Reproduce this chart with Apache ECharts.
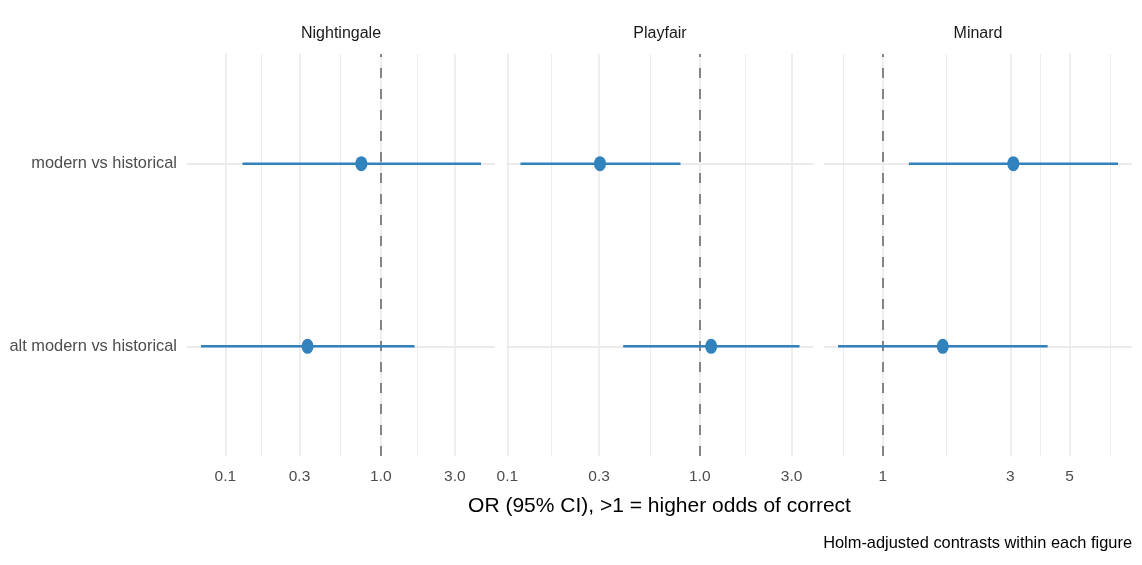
<!DOCTYPE html>
<html><head><meta charset="utf-8">
<script src="https://cdn.jsdelivr.net/npm/echarts@6/dist/echarts.min.js"></script>
<style>html,body{margin:0;padding:0;background:#fff}#c{width:1142px;height:565px}</style>
</head><body><div id="c"></div>
<script>
// ---- data ----
const facets = ['Nightingale', 'Playfair', 'Minard'];
const contrasts = ['alt modern vs historical', 'modern vs historical']; // row 1, row 2
const nightingaleOR = [0.338, 0.75];
const nightingaleLow = [0.0697, 0.129];
const nightingaleHigh = [1.65, 4.42];
const playfairOR = [1.146, 0.303];
const playfairLow = [0.40, 0.117];
const playfairHigh = [3.30, 0.794];
const minardOR = [1.677, 3.08];
const minardLow = [0.68, 1.252];
const minardHigh = [4.14, 7.59];
const nightingaleTicks = [0.1, 0.3, 1, 3];
const nightingaleTickLabels = ['0.1', '0.3', '1.0', '3.0'];
const playfairTicks = [0.1, 0.3, 1, 3];
const playfairTickLabels = ['0.1', '0.3', '1.0', '3.0'];
const minardTicks = [1, 3, 5];
const minardTickLabels = ['1', '3', '5'];
const nightingaleMinor = [0.1732, 0.5477, 1.732];
const playfairMinor = [0.1732, 0.5477, 1.732];
const minardMinor = [0.7071, 1.732, 3.873, 7.071];
const refValue = [1];
const xTitle = 'OR (95% CI), >1 = higher odds of correct';
const caption = 'Holm-adjusted contrasts within each figure';

// ---- style ----
const FONT = '"Liberation Sans", Arial, sans-serif';
const BLUE = '#3182bd';
const GRID = '#ebebeb';
const panels = [
  {name: facets[0], or: nightingaleOR, lo: nightingaleLow, hi: nightingaleHigh, ticks: nightingaleTicks, labels: nightingaleTickLabels, minor: nightingaleMinor, left: 187, width: 308},
  {name: facets[1], or: playfairOR, lo: playfairLow, hi: playfairHigh, ticks: playfairTicks, labels: playfairTickLabels, minor: playfairMinor, left: 506.5, width: 307},
  {name: facets[2], or: minardOR, lo: minardLow, hi: minardHigh, ticks: minardTicks, labels: minardTickLabels, minor: minardMinor, left: 824, width: 308}
];
const TOP = 54, HEIGHT = 402;

const grid = [], xAxis = [], yAxis = [], series = [], graphic = [];
panels.forEach((p, i) => {
  const lmin = Math.log10(Math.min(...p.lo)), lmax = Math.log10(Math.max(...p.hi));
  const pad = (lmax - lmin) * 0.05;
  grid.push({left: p.left, width: p.width, top: TOP, height: HEIGHT, containLabel: false, outerBoundsMode: 'none'});
  xAxis.push({
    type: 'log', gridIndex: i, min: Math.pow(10, lmin - pad), max: Math.pow(10, lmax + pad),
    axisLine: {show: false}, axisTick: {show: false}, splitLine: {show: false}, minorSplitLine: {show: false},
    axisLabel: {
      customValues: p.ticks, margin: 13, color: '#4d4d4d', fontSize: 15.5, fontFamily: FONT,
      formatter: v => { const k = p.ticks.findIndex(t => Math.abs(t - v) < 1e-9); return k >= 0 ? p.labels[k] : ''; }
    }
  });
  yAxis.push({
    type: 'value', gridIndex: i, min: 0.4, max: 2.6,
    axisLine: {show: false}, axisTick: {show: false}, splitLine: {show: false},
    axisLabel: {
      show: i === 0, customValues: [1, 2], margin: 10, color: '#4d4d4d', fontSize: 16.4, fontFamily: FONT,
      formatter: v => contrasts[Math.round(v) - 1] || ''
    }
  });
  const gridLines = [];
  p.minor.forEach(v => gridLines.push({xAxis: v, lineStyle: {color: GRID, width: 0.9, type: 'solid'}}));
  p.ticks.forEach(v => gridLines.push({xAxis: v, lineStyle: {color: GRID, width: 1.7, type: 'solid'}}));
  contrasts.forEach((c, k) => gridLines.push({yAxis: k + 1, lineStyle: {color: GRID, width: 1.8, type: 'solid'}}));
  series.push({
    type: 'line', xAxisIndex: i, yAxisIndex: i, data: [], silent: true, z: 1,
    markLine: {silent: true, z: 1, symbol: 'none', label: {show: false}, animation: false, data: gridLines}
  });
  series.push({
    type: 'line', xAxisIndex: i, yAxisIndex: i, data: [], silent: true, z: 2,
    markLine: {silent: true, z: 2, symbol: 'none', label: {show: false}, animation: false,
      data: refValue.map(v => ({xAxis: v, lineStyle: {color: '#7f7f7f', width: 1.9, type: [10, 11]}}))}
  });
  p.or.forEach((_, k) => {
    series.push({
      type: 'line', xAxisIndex: i, yAxisIndex: i, z: 3, silent: true, showSymbol: false, symbol: 'none',
      lineStyle: {color: BLUE, width: 2.5, opacity: 1}, emphasis: {disabled: true},
      data: [[p.lo[k], k + 1], [p.hi[k], k + 1]]
    });
  });
  series.push({
    type: 'scatter', xAxisIndex: i, yAxisIndex: i, z: 4, silent: true,
    symbol: 'path://M0,1 A1,1 0 1,1 2,1 A1,1 0 1,1 0,1 Z', symbolSize: [12, 15],
    itemStyle: {color: BLUE, opacity: 1},
    data: p.or.map((v, k) => [v, k + 1])
  });
  graphic.push({type: 'text', x: p.left + p.width / 2, y: 34,
    style: {text: p.name, fill: '#1a1a1a', font: '16px ' + FONT, textAlign: 'center', textVerticalAlign: 'middle'}});
});
graphic.push({type: 'text', x: 659.5, y: 506,
  style: {text: xTitle, fill: '#000', font: '21px ' + FONT, textAlign: 'center', textVerticalAlign: 'middle'}});
graphic.push({type: 'text', x: 1132, y: 543,
  style: {text: caption, fill: '#000', font: '16.4px ' + FONT, textAlign: 'right', textVerticalAlign: 'middle'}});

const chart = echarts.init(document.getElementById('c'), null, {renderer: 'canvas'});
chart.setOption({animation: false, backgroundColor: '#fff', grid, xAxis, yAxis, series, graphic});
</script></body></html>
